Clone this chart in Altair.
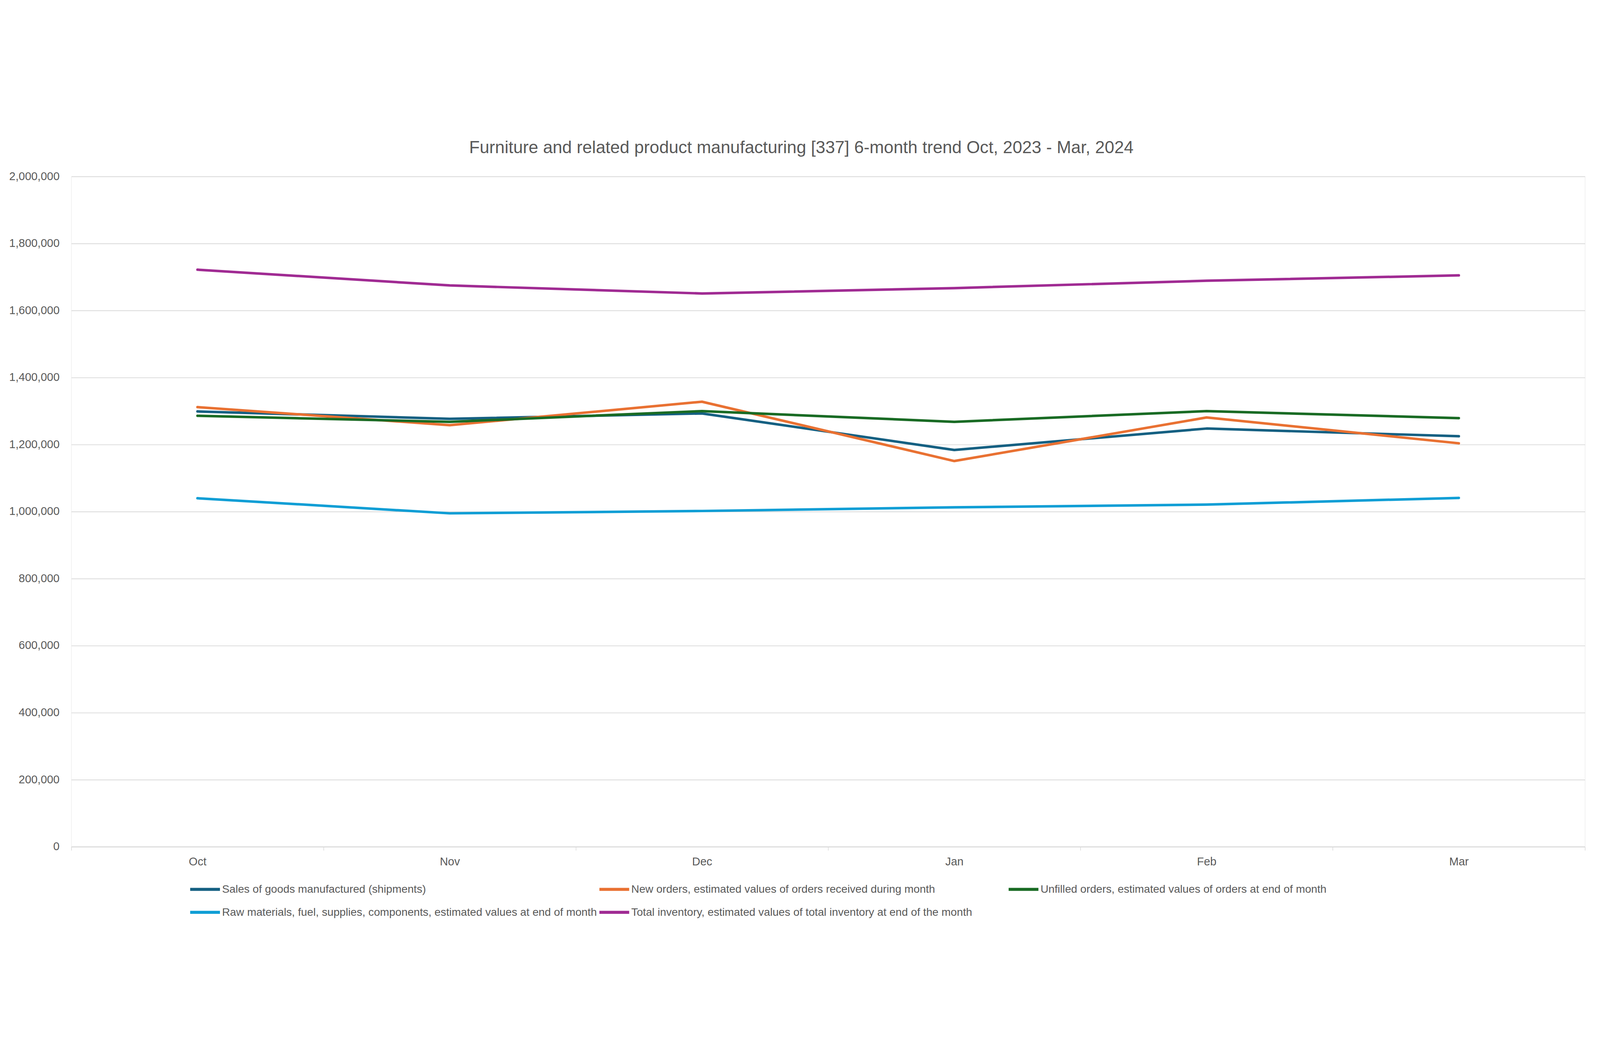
import altair as alt
import pandas as pd

months = ["Oct", "Nov", "Dec", "Jan", "Feb", "Mar"]
series_names = [
    "Sales of goods manufactured (shipments)",
    "New orders, estimated values of orders received during month",
    "Unfilled orders, estimated values of orders at end of month",
    "Raw materials, fuel, supplies, components, estimated values at end of month",
    "Total inventory, estimated values of total inventory at end of the month",
]
sales = [1299000, 1277000, 1293000, 1184000, 1248000, 1225000]
new_orders = [1312000, 1258000, 1328000, 1151000, 1281000, 1204000]
unfilled = [1286000, 1268000, 1300000, 1268000, 1300000, 1279000]
raw_materials = [1040000, 995000, 1002000, 1013000, 1021000, 1041000]
total_inventory = [1722000, 1675000, 1651000, 1667000, 1689000, 1705000]
colors = ["#156082", "#E97132", "#196B24", "#0F9ED5", "#A02B93"]
y_ticks = [0, 200000, 400000, 600000, 800000, 1000000, 1200000, 1400000,
           1600000, 1800000, 2000000]

all_values = [sales, new_orders, unfilled, raw_materials, total_inventory]
rows = []
for name, vals in zip(series_names, all_values):
    for m, v in zip(months, vals):
        rows.append({"month": m, "series": name, "value": v})
df = pd.DataFrame(rows)

FONT = "Liberation Sans"
GRAY_TXT = "#595959"
GRID = "#D9D9D9"

chart = (
    alt.Chart(df)
    .mark_line(strokeWidth=8.5, strokeCap="round", strokeJoin="round")
    .encode(
        x=alt.X(
            "month:N",
            sort=months,
            bandPosition=0.5,
            scale=alt.Scale(type="band", domain=months, paddingInner=0, paddingOuter=0),
            axis=alt.Axis(
                title=None,
                labelAngle=0,
                labelFont=FONT,
                labelFontSize=38,
                labelColor=GRAY_TXT,
                labelPadding=20,
                ticks=True,
                tickBand="extent",
                tickSize=12,
                tickColor=GRID,
                tickWidth=2,
                domain=True,
                domainColor=GRID,
                domainWidth=3,
                grid=False,
            ),
        ),
        y=alt.Y(
            "value:Q",
            scale=alt.Scale(domain=[0, 2000000], nice=False, zero=True),
            axis=alt.Axis(
                title=None,
                values=y_ticks,
                format=",.0f",
                labelFont=FONT,
                labelFontSize=38,
                labelColor=GRAY_TXT,
                labelPadding=40,
                ticks=False,
                domain=False,
                grid=True,
                gridColor=GRID,
                gridWidth=2.5,
            ),
        ),
        color=alt.Color(
            "series:N",
            sort=series_names,
            scale=alt.Scale(domain=series_names, range=colors),
            legend=alt.Legend(
                title=None,
                orient="none",
                legendX=394,
                legendY=2338,
                direction="horizontal",
                columns=3,
                gridAlign="all",
                columnPadding=-12,
                rowPadding=2,
                padding=0,
                symbolType="stroke",
                symbolSize=10000,
                symbolStrokeWidth=10,
                labelOffset=2,
                labelFont=FONT,
                labelFontSize=37,
                labelColor=GRAY_TXT,
                labelLimit=3000,
            ),
        ),
    )
    .properties(
        width=5082,
        height=2250,
        autosize=alt.AutoSizeParams(type="none"),
        padding={"left": 229, "top": 164, "right": 40, "bottom": 270},
        title=alt.TitleParams(
            text="Furniture and related product manufacturing  [337] 6-month trend Oct, 2023 - Mar, 2024",
            font=FONT,
            fontSize=58,
            fontWeight="normal",
            color=GRAY_TXT,
            anchor="middle",
            dx=-90,
            offset=48,
        ),
    )
    .configure_view(stroke=None)
    .configure(background="white")
)

chart.save("out.html", embed_options={"renderer": "svg", "actions": False})
